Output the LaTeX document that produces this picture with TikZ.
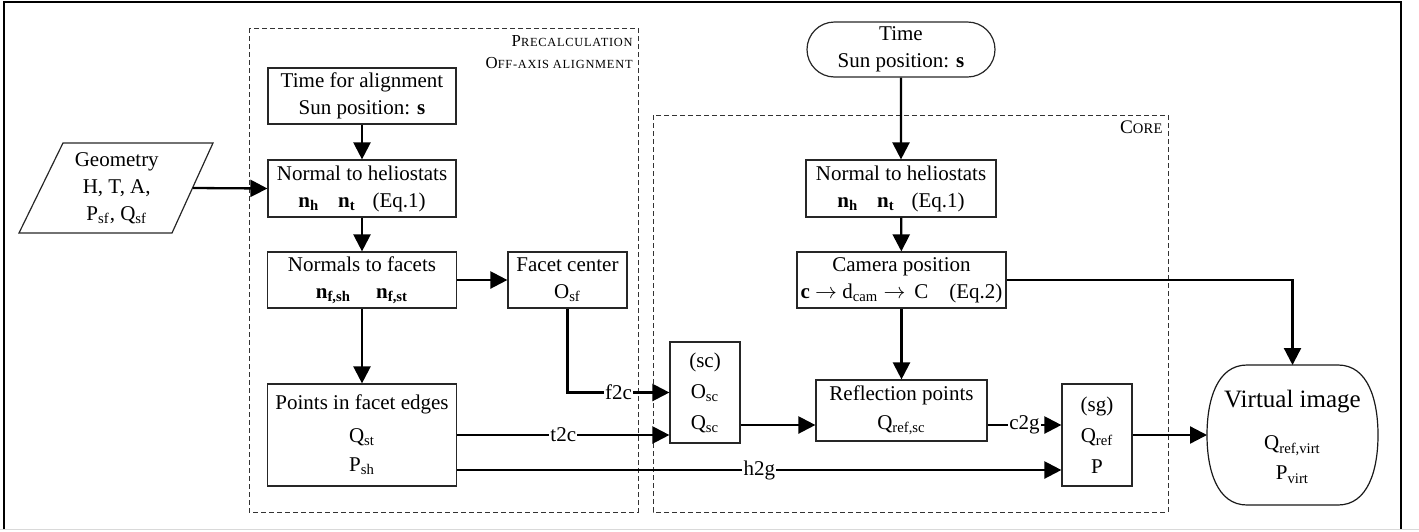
\documentclass[tikz,border=0pt]{standalone}
\usepackage{fontspec}
\setmainfont{Liberation Serif}
\usetikzlibrary{arrows.meta,shapes.misc,calc}
\newcommand\mainfs{\fontsize{10.5}{13.5}\selectfont}
\newcommand\fsc[2]{{\fontsize{8.4}{10}\selectfont #1{\fontsize{6.2}{10}\selectfont\addfontfeature{LetterSpace=6}#2}}}
\newcommand\bsc[2]{{\fontsize{9.6}{11}\selectfont #1{\fontsize{7.3}{11}\selectfont\addfontfeature{LetterSpace=2}#2}}}
\newcommand\bn[1]{\textbf{n}\textsubscript{\textbf{#1}}}
\begin{document}
\begin{tikzpicture}[x=0.5pt,y=-0.5pt,
  box/.style={draw=black!85, line width=0.6pt, align=center, inner sep=0pt, font=\mainfs},
  arr/.style={line width=1.15pt, -{Triangle[length=8.5pt,width=8.5pt]}},
  lab/.style={fill=white, inner sep=0.6pt, font=\mainfs},
  grp/.style={draw=black!80, line width=0.5pt, dash pattern=on 2.5pt off 1.5pt}]
\useasboundingbox (0,0) rectangle (1419,531);
% frame
\draw[black!15, line width=0.8pt] (0,529.5) -- (1419,529.5);
\draw[line width=0.9pt] (4,529) -- (4,2) -- (1401,2) -- (1401,529);
% groups
\draw[grp] (249,28) rectangle (638,512);
\draw[grp] (653,115) rectangle (1168,512);
\node[anchor=north east, align=right, inner sep=0pt] (lpre) at (633,35)
  {\fsc{P}{RECALCULATION}\\[-1pt]\fsc{O}{FF-AXIS ALIGNMENT}};
\node[anchor=north east, inner sep=0pt] (lcore) at (1163,120) {\bsc{C}{ORE}};
% helper coordinates
\coordinate (y425) at (0,425);
\coordinate (y470) at (0,470);
% geometry
\draw[draw=black!85, line width=0.6pt] (63,143) -- (213,143) -- (172,233) -- (19,233) -- cycle;
\node[align=center, inner sep=0pt, minimum width=75.75pt, font=\mainfs] (geo) at (116.75,188)
  {Geometry\\H, T, A,\\P\textsubscript{sf}, Q\textsubscript{sf}};
% precalculation
\node[box, minimum width=94pt, minimum height=28pt] (ta) at (362,96)
  {Time for alignment\\Sun position: \textbf{s}};
\node[box, minimum width=94pt, minimum height=28.5pt] (nh1) at (362,188.5)
  {Normal to heliostats\\\bn{h}\hspace{0.9em}\bn{t}\hspace{0.8em}(Eq.1)};
\node[box, minimum width=94.5pt, minimum height=28pt] (nf) at (362,280)
  {Normals to facets\\\bn{f,sh}\hspace{1.2em}\bn{f,st}};
\node[box, minimum width=59.5pt, minimum height=28pt] (fc) at (567.5,280)
  {Facet center\\O\textsubscript{sf}};
\node[box, minimum width=94.5pt, minimum height=51pt] (pf) at (362,435)
  {Points in facet edges\\[3pt]Q\textsubscript{st}\\[1pt]P\textsubscript{sh}};
\node[box, minimum width=35pt, minimum height=50.5pt] (sc) at (705,392.5)
  {(sc)\\[2pt]O\textsubscript{sc}\\[2pt]Q\textsubscript{sc}};
% core
\node[draw=black!85, line width=0.6pt, rounded rectangle, align=center, inner sep=0pt,
  minimum width=94pt, minimum height=27.5pt, font=\mainfs] (tm) at (901,49.5)
  {Time\\Sun position: \textbf{s}};
\node[box, minimum width=95pt, minimum height=28.5pt] (nh2) at (901,188.5)
  {Normal to heliostats\\\bn{h}\hspace{0.9em}\bn{t}\hspace{0.8em}(Eq.1)};
\node[box, minimum width=104.5pt, minimum height=28pt] (cam) at (901.5,280)
  {Camera position\\\textbf{c} $\rightarrow$ d\textsubscript{cam} $\rightarrow$\, C\hspace{1em}(Eq.2)};
\node[box, minimum width=85.5pt, minimum height=30.5pt] (rp) at (901.5,410.5)
  {Reflection points\\[1pt]Q\textsubscript{ref,sc}};
\node[box, minimum width=35pt, minimum height=51pt] (sg) at (1097,435)
  {(sg)\\[2pt]Q\textsubscript{ref}\\[2pt]P};
% virtual image
\node[align=center, inner sep=0pt, minimum width=85.5pt, minimum height=70pt] (vi) at (1292.5,437)
  {{\fontsize{12.5}{15}\selectfont Virtual image}\\[9pt]{\mainfs Q\textsubscript{ref,virt}}\\[3pt]{\mainfs P\textsubscript{virt}}};
\draw[black!90, line width=0.6pt] (1247,365) -- (1338,365)
  .. controls (1368,365) and (1378,400) .. (1378,435)
  .. controls (1378,470) and (1368,505) .. (1338,505)
  -- (1247,505)
  .. controls (1217,505) and (1207,470) .. (1207,435)
  .. controls (1207,400) and (1217,365) .. (1247,365) -- cycle;
\coordinate (vitop) at (1292.5,365);
\coordinate (vileft) at (1207,435);
% connectors
\draw[arr] (geo.east) -- (nh1.west);
\draw[arr] (ta) -- (nh1);
\draw[arr] (nh1) -- (nf);
\draw[arr] (nf) -- (fc);
\draw[arr] (nf) -- (pf);
\draw[arr] (fc.south) |- node[lab, pos=0.75] {f2c} (sc.west);
\draw[arr] (pf.east) -- node[lab] {t2c} (pf.east -| sc.west);
\draw[arr] (pf.east |- y470) -- node[lab] {h2g} (sg.west |- y470);
\draw[arr] (tm) -- (nh2);
\draw[arr] (nh2) -- (cam);
\draw[arr] (cam) -- (rp);
\draw[arr] (cam.east) -| (vitop);
\draw[arr] (sc.east |- y425) -- (rp.west |- y425);
\draw[arr] (rp.east |- y425) -- node[lab] {c2g} (sg.west |- y425);
\draw[arr] (sg.east) -- (vileft);
\end{tikzpicture}
\end{document}
